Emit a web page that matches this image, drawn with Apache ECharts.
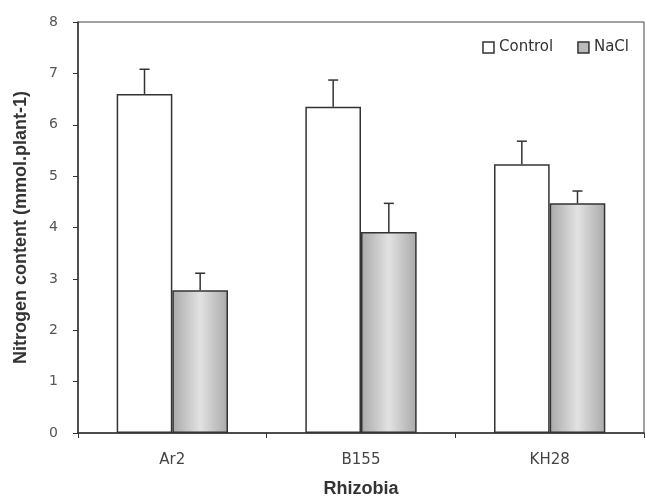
<!DOCTYPE html>
<html>
<head>
<meta charset="utf-8">
<script src="https://cdn.jsdelivr.net/npm/echarts@6/dist/echarts.min.js"></script>
<style>html,body{margin:0;padding:0;background:#fff}#c{width:646px;height:498px}</style>
</head>
<body>
<div id="c"></div>
<script>
var categories = ['Ar2', 'B155', 'KH28'];
var controlValues = [6.6, 6.35, 5.23];
var controlErrors = [0.48, 0.52, 0.45];
var naclValues = [2.78, 3.91, 4.47];
var naclErrors = [0.33, 0.56, 0.24];
var yTicks = [0, 1, 2, 3, 4, 5, 6, 7, 8];

var GAP = 0.41;
var chart = echarts.init(document.getElementById('c'));

function errSeries(name, vals, errs, side) {
  return {
    type: 'custom',
    name: name + ' err',
    z: 5,
    silent: true,
    data: vals.map(function (v, i) { return [i, v, errs[i]]; }),
    renderItem: function (params, api) {
      var idx = api.value(0), v = api.value(1), e = api.value(2);
      var catW = api.size([1, 0])[0];
      var bw = catW * (1 - GAP) / 2;
      var base = api.coord([idx, v]);
      var top = api.coord([idx, v + e]);
      var x = base[0] + side * bw / 2;
      var st = { stroke: '#333', lineWidth: 1.5 };
      return {
        type: 'group',
        children: [
          { type: 'line', shape: { x1: x, y1: base[1], x2: x, y2: top[1] }, style: st },
          { type: 'line', shape: { x1: x - 5, y1: top[1], x2: x + 5, y2: top[1] }, style: st }
        ]
      };
    }
  };
}

var naclFill = new echarts.graphic.LinearGradient(0, 0, 1, 0, [
  { offset: 0, color: '#a9a9a9' },
  { offset: 0.5, color: '#e2e2e2' },
  { offset: 1, color: '#a9a9a9' }
]);

chart.setOption({
  animation: false,
  grid: { left: 78, right: 2, top: 22, bottom: 65, outerBoundsMode: 'none', containLabel: false,
          show: true, borderColor: '#444', borderWidth: 1 },
  legend: {
    right: 12, top: 35,
    itemWidth: 11, itemHeight: 11, itemGap: 24,
    textStyle: { fontFamily: 'DejaVu Sans', fontSize: 15, color: '#333' },
    data: [
      { name: 'Control', icon: 'rect', itemStyle: { color: '#fff', borderColor: '#333', borderWidth: 1.5 } },
      { name: 'NaCl', icon: 'rect', itemStyle: { color: '#bbb', borderColor: '#333', borderWidth: 1.5 } }
    ]
  },
  xAxis: {
    type: 'category',
    data: categories,
    name: 'Rhizobia',
    nameLocation: 'middle',
    nameGap: 47,
    nameTextStyle: { fontFamily: 'Liberation Sans', fontWeight: 'bold', fontSize: 18, color: '#333' },
    axisLine: { lineStyle: { color: '#333', width: 1.5 } },
    axisTick: { show: true, length: 5, lineStyle: { color: '#333' } },
    axisLabel: { fontFamily: 'DejaVu Sans', fontSize: 15, color: '#444', margin: 20 }
  },
  yAxis: {
    type: 'value',
    min: 0, max: 8, interval: 1,
    name: 'Nitrogen content (mmol.plant-1)',
    nameLocation: 'middle',
    nameGap: 48,
    nameTextStyle: { fontFamily: 'Liberation Sans', fontWeight: 'bold', fontSize: 18, color: '#333' },
    axisLine: { show: true, lineStyle: { color: '#333', width: 1.5 } },
    axisTick: { show: true, length: 5, lineStyle: { color: '#333' } },
    splitLine: { show: false },
    axisLabel: {
      fontFamily: 'DejaVu Sans', fontSize: 14, color: '#555', margin: 20,
      formatter: function (v) { return yTicks.indexOf(v) >= 0 ? String(v) : ''; }
    }
  },
  series: [
    {
      name: 'Control', type: 'bar', data: controlValues,
      barGap: '0%', barCategoryGap: (GAP * 100) + '%',
      itemStyle: { color: '#fff', borderColor: '#333', borderWidth: 1.5 }
    },
    {
      name: 'NaCl', type: 'bar', data: naclValues,
      itemStyle: { color: naclFill, borderColor: '#333', borderWidth: 1.5 }
    },
    errSeries('Control', controlValues, controlErrors, -1),
    errSeries('NaCl', naclValues, naclErrors, 1)
  ]
});
</script>
</body>
</html>
